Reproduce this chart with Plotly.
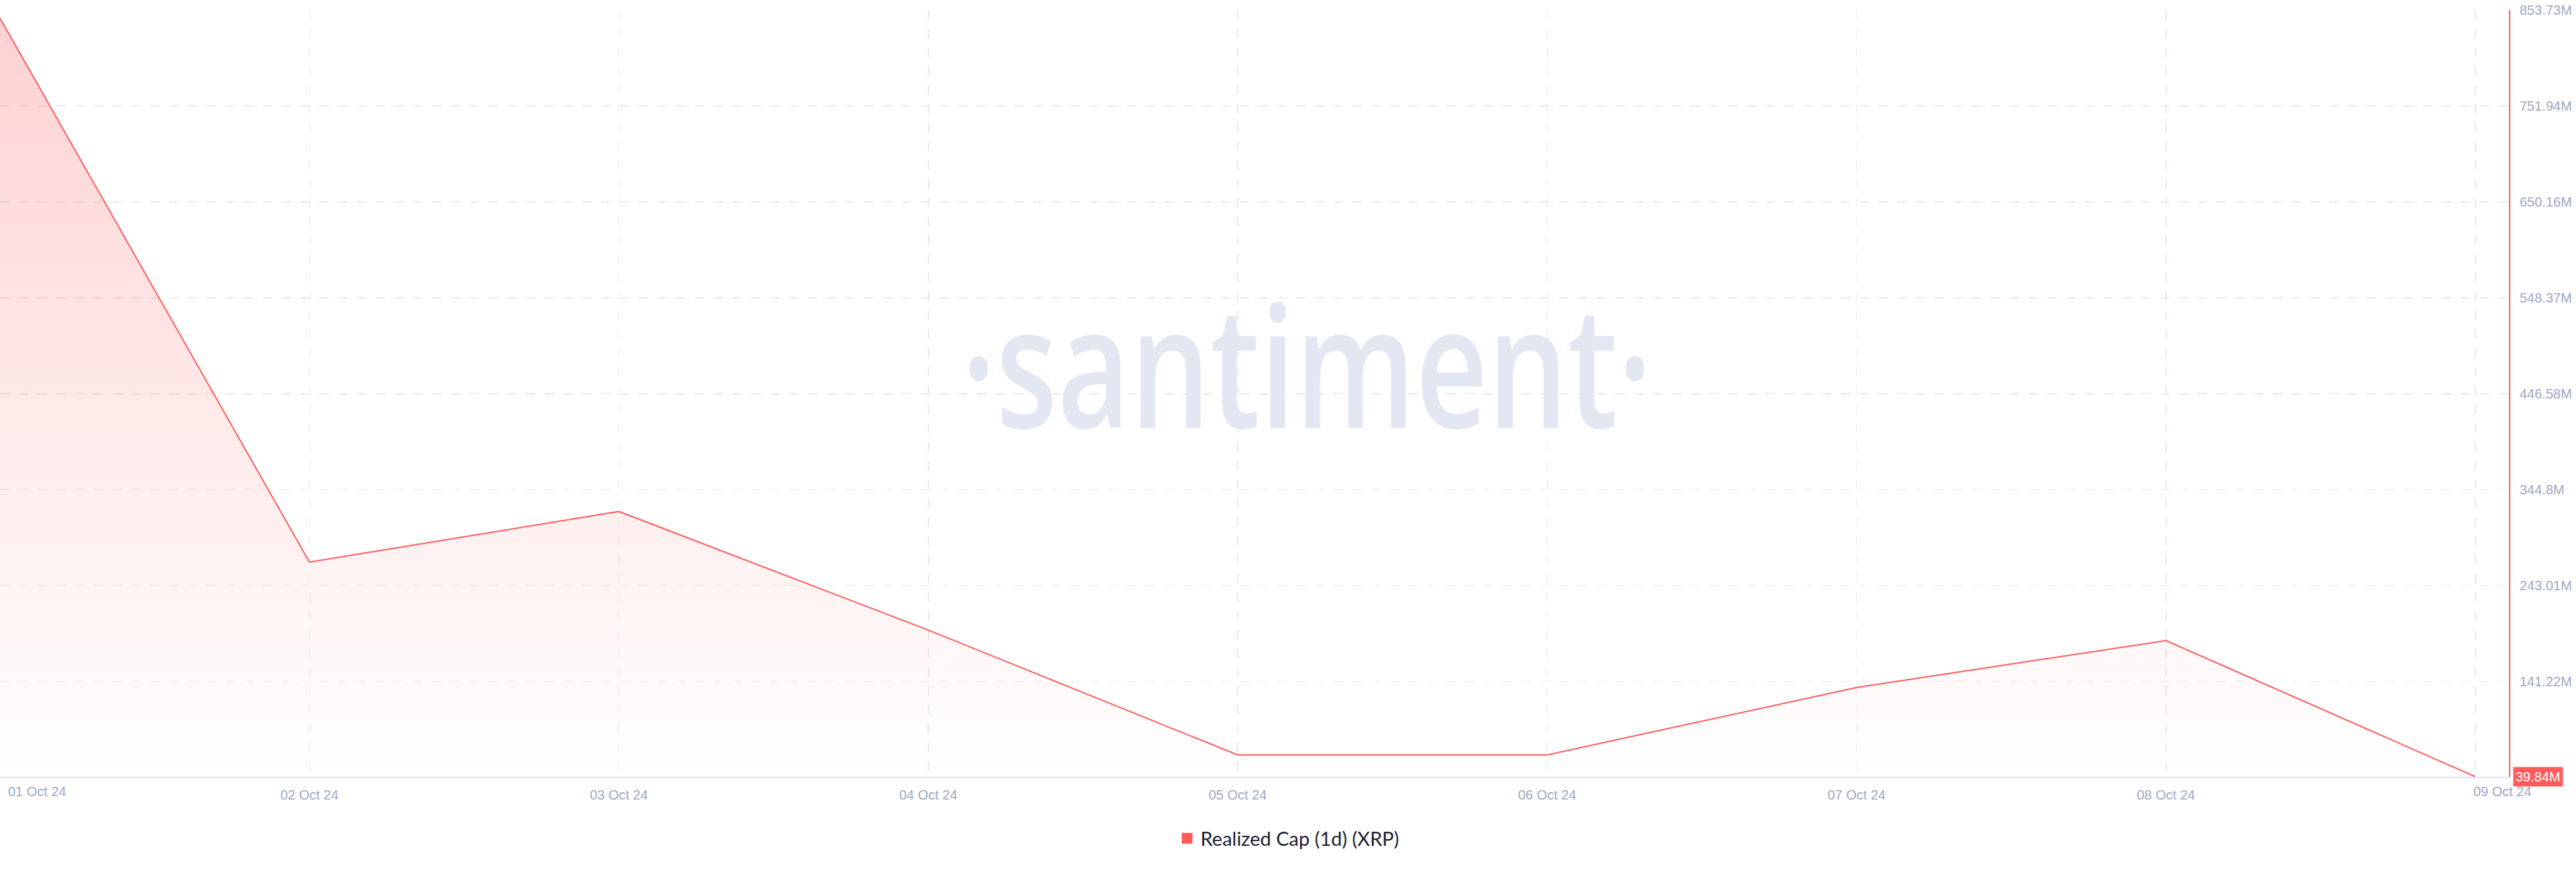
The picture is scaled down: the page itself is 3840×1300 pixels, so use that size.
import plotly.graph_objects as go

# ---- data ----
dates = ["2024-10-01", "2024-10-02", "2024-10-03", "2024-10-04", "2024-10-05",
         "2024-10-06", "2024-10-07", "2024-10-08", "2024-10-09"]
date_labels = ["01 Oct 24", "02 Oct 24", "03 Oct 24", "04 Oct 24", "05 Oct 24",
               "06 Oct 24", "07 Oct 24", "08 Oct 24", "09 Oct 24"]
realized_cap_m = [845.0, 267.7, 321.5, 195.5, 63.0, 63.0, 134.6, 184.4, 39.84]
y_ticks_m = [853.73, 751.94, 650.16, 548.37, 446.58, 344.8, 243.01, 141.22]
y_tick_labels = ["853.73M", "751.94M", "650.16M", "548.37M", "446.58M",
                 "344.8M", "243.01M", "141.22M"]
y_min_m = 39.84
y_max_m = 853.73
last_label = "39.84M"
series_name = "Realized Cap (1d) (XRP)"

RED = "#ff5b5b"
GRID = "#e6e9f2"
TICK = "#9da8c3"

fig = go.Figure()
fig.add_trace(go.Scatter(
    x=dates, y=realized_cap_m, mode="lines",
    line=dict(color=RED, width=2),
    fill="tozeroy",
    fillgradient=dict(type="vertical",
                      colorscale=[[0, "rgba(255,91,91,0.0)"], [1, "rgba(255,91,91,0.28)"]],
                      start=y_min_m, stop=y_max_m),
    showlegend=False, hoverinfo="skip",
))
# legend entry (square)
fig.add_trace(go.Scatter(
    x=[None], y=[None], mode="markers", name=series_name,
    marker=dict(symbol="square", size=18, color=RED),
))

x_ticktext = [""] + date_labels[1:-1] + [""]

fig.update_layout(
    width=3840, height=1300,
    paper_bgcolor="white", plot_bgcolor="white",
    margin=dict(l=0, r=100, t=15, b=142, autoexpand=False),
    font=dict(family="Liberation Sans, Arial, sans-serif", size=20, color=TICK),
    showlegend=True,
    legend=dict(orientation="h", x=0.5134, xanchor="center", y=-0.0805, yanchor="middle",
                font=dict(family="Lato, sans-serif", size=29, color="#1b2133"),
                itemsizing="trace"),
    hovermode=False,
    xaxis=dict(
        type="date", automargin=False,
        range=["2024-10-01 00:00", "2024-10-09 02:36"],
        tickvals=dates, ticktext=x_ticktext,
        showgrid=True, gridcolor=GRID, gridwidth=1.5, griddash="14px,14px",
        showline=True, linecolor="#dfe3ee", linewidth=2,
        ticks="", ticklabelstandoff=8,
        tickfont=dict(size=20, color=TICK),
        zeroline=False, fixedrange=True,
    ),
    yaxis=dict(
        side="right", automargin=False,
        range=[y_min_m, y_max_m],
        tickvals=y_ticks_m, ticktext=y_tick_labels,
        showgrid=True, gridcolor=GRID, gridwidth=1.5, griddash="14px,14px",
        showline=True, linecolor=RED, linewidth=2,
        ticks="", ticklabelstandoff=10,
        tickfont=dict(size=20, color=TICK),
        zeroline=False, fixedrange=True,
    ),
)

annotations = [
    # watermark
    dict(text="·santiment·", x=0.5208, y=0.54, xref="paper", yref="paper",
         xanchor="center", yanchor="middle", showarrow=False,
         font=dict(family="Open Sans, sans-serif", size=252, color="#e3e7f1", weight=600)),
    # edge x tick labels
    dict(text=date_labels[0], x=dates[0], y=0, xref="x", yref="paper",
         xanchor="left", yanchor="top", xshift=10, yshift=-9, showarrow=False,
         font=dict(size=20, color=TICK)),
    dict(text=date_labels[-1], x=dates[-1], y=0, xref="x", yref="paper",
         xanchor="center", yanchor="top", xshift=40, yshift=-9, showarrow=False,
         font=dict(size=20, color=TICK)),
    # last value tag
    dict(text=last_label, x=1, y=realized_cap_m[-1], xref="paper", yref="y",
         xanchor="left", yanchor="middle", xshift=6, showarrow=False,
         bgcolor=RED, borderpad=3,
         font=dict(size=20, color="white")),
]
fig.update_layout(annotations=annotations)

# page without default body margin; condense the watermark horizontally
post_js = """
document.body.style.margin = '0';
document.body.style.padding = '0';
var gd = document.getElementById('{plot_id}');
function squeeze(){
  var a = gd.querySelectorAll('.annotation')[0];
  if(!a) return;
  var t = a.querySelector('text');
  if(!t) return;
  t.style.transformBox = 'fill-box';
  t.style.transformOrigin = 'center';
  t.style.transform = 'scaleX(0.745)';
}
squeeze();
gd.on && gd.on('plotly_afterplot', squeeze);
"""
fig.write_html("out.html", post_script=post_js,
               config={"displayModeBar": False, "staticPlot": True})
